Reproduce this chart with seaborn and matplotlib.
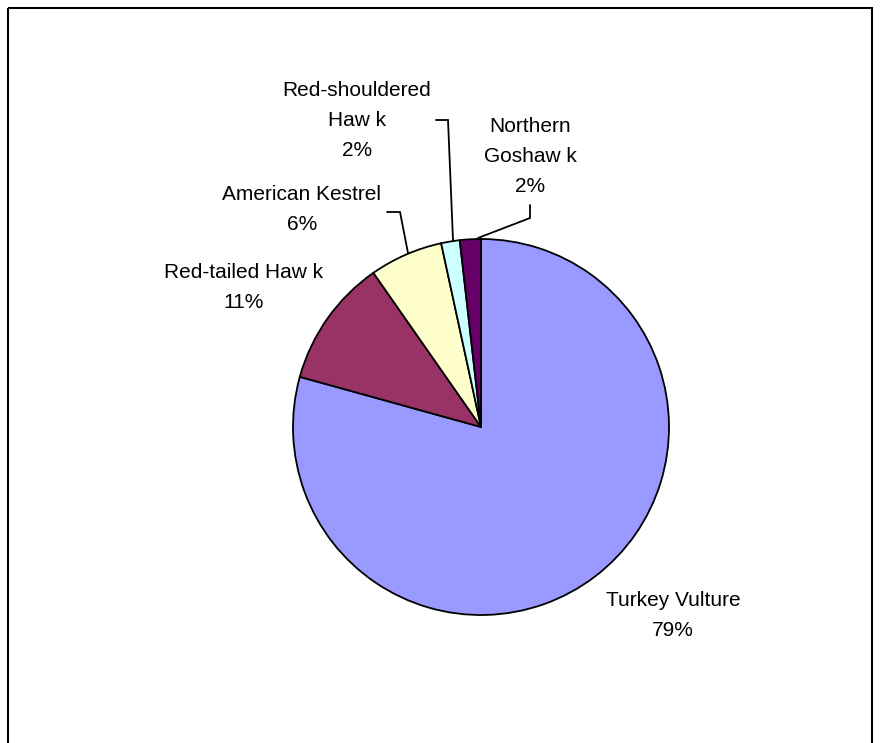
import matplotlib
matplotlib.use("Agg")
import matplotlib.pyplot as plt
from matplotlib.patches import Rectangle
import seaborn as sns

# Share of raptor sightings by species (percent of all birds counted)
species = ["Turkey Vulture", "Red-tailed Hawk", "American Kestrel",
           "Red-shouldered Hawk", "Northern Goshawk"]
share = [79.3, 11.0, 6.3, 1.6, 1.8]
label_lines = [["Turkey Vulture"], ["Red-tailed Haw k"], ["American Kestrel"],
               ["Red-shouldered", "Haw k"], ["Northern", "Goshaw k"]]
colors = ["#9999FF", "#993366", "#FFFFCC", "#CCFFFF", "#660066"]

sns.set_theme(style="white")
plt.rcParams["font.family"] = ["Liberation Sans", "DejaVu Sans"]

W, H = 880, 743
fig = plt.figure(figsize=(W / 100, H / 100), dpi=100)
fig.patch.set_facecolor("white")

# pie axes: centre (481, 427) px, radius 188 px
cx, cy, r = 481, 427, 188
ax = fig.add_axes([(cx - r) / W, (H - cy - r) / H, 2 * r / W, 2 * r / H])
ax.pie(share, colors=sns.color_palette(colors), startangle=90, counterclock=False,
       radius=1.0, wedgeprops=dict(edgecolor="black", linewidth=1.3))
ax.set_xlim(-1, 1)
ax.set_ylim(-1, 1)
ax.axis("off")

# overlay axes in pixel coordinates for labels and leader lines
ov = fig.add_axes([0, 0, 1, 1], facecolor="none")
ov.set_xlim(0, W)
ov.set_ylim(H, 0)
ov.axis("off")

total = sum(share)
label_pos = [(673, 600), (244, 272), (302, 195), (357, 90), (530, 126)]
for lines, v, (lx, ly) in zip(label_lines, share, label_pos):
    rows = lines + [f"{v / total * 100:.0f}%"]
    for i, t in enumerate(rows):
        ov.text(lx, ly + 30 * i, t, ha="center", va="center",
                fontsize=15, color="black")

# leader lines
leaders = [
    [(387, 212), (400, 212), (408, 253)],
    [(436, 120), (448, 120), (453, 240)],
    [(530, 205), (530, 218), (478, 238)],
]
for pts in leaders:
    xs, ys = zip(*pts)
    ov.plot(xs, ys, color="black", lw=1.3, solid_joinstyle="miter")

# chart frame
ov.add_patch(Rectangle((8, 8), 864, 760, fill=False, edgecolor="black",
                       lw=1.5, clip_on=False))

fig.savefig("out.png", dpi=100, facecolor="white")
